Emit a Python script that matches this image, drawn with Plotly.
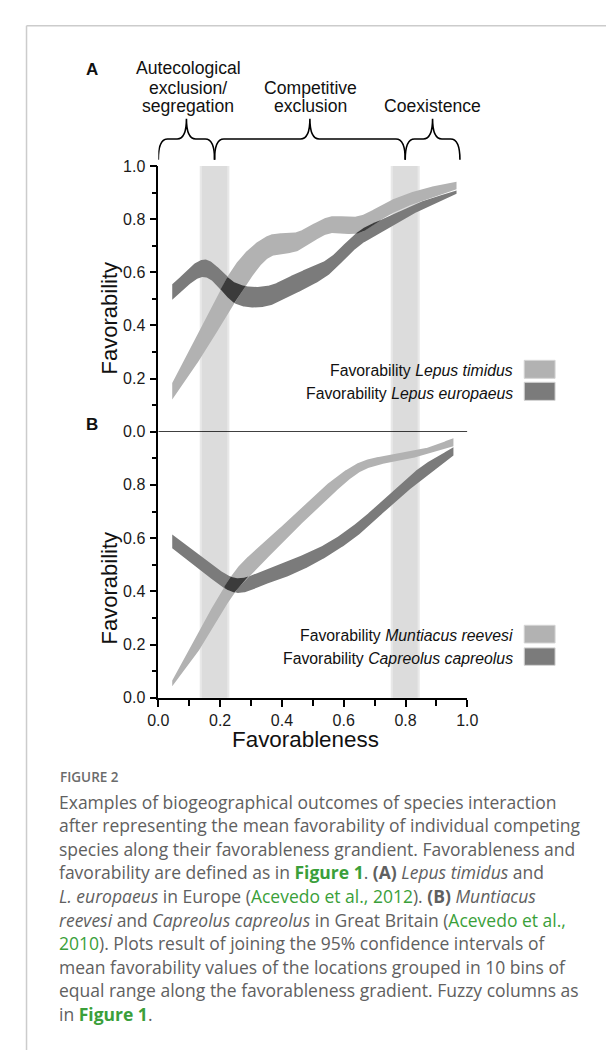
import numpy as np
import plotly.graph_objects as go

W, H = 614, 1051

# ---------------- data ----------------
# Panel A: Lepus timidus / Lepus europaeus (95% CI bounds of mean favorability per bin)
XA = [0.045, 0.15, 0.25, 0.35, 0.45, 0.55, 0.65, 0.75, 0.85, 0.965]
timidus_upper = [0.183, 0.42, 0.63, 0.735, 0.752, 0.808, 0.812, 0.87, 0.912, 0.941]
timidus_lower = [0.121, 0.30, 0.49, 0.648, 0.68, 0.745, 0.748, 0.818, 0.868, 0.913]
europaeus_upper = [0.555, 0.648, 0.56, 0.548, 0.598, 0.651, 0.756, 0.812, 0.865, 0.908]
europaeus_lower = [0.497, 0.582, 0.482, 0.472, 0.524, 0.59, 0.70, 0.768, 0.835, 0.896]

# Panel B: Muntiacus reevesi / Capreolus capreolus
XB = [0.045, 0.15, 0.25, 0.35, 0.45, 0.55, 0.65, 0.75, 0.85, 0.955]
muntiacus_upper = [0.065, 0.29, 0.48, 0.59, 0.70, 0.806, 0.884, 0.913, 0.933, 0.975]
muntiacus_lower = [0.043, 0.21, 0.40, 0.522, 0.639, 0.75, 0.847, 0.886, 0.908, 0.945]
capreolus_upper = [0.614, 0.522, 0.45, 0.483, 0.528, 0.583, 0.664, 0.768, 0.868, 0.941]
capreolus_lower = [0.562, 0.466, 0.395, 0.428, 0.472, 0.534, 0.614, 0.719, 0.818, 0.910]

# Fuzzy columns (favorableness ranges)
BANDS = [(0.134, 0.230), (0.752, 0.846)]

# Axis ticks
X_TICKS = [0.0, 0.2, 0.4, 0.6, 0.8, 1.0]
X_MINOR = [0.1, 0.3, 0.5, 0.7, 0.9]
Y_TICKS_A = [0.0, 0.2, 0.4, 0.6, 0.8, 1.0]
Y_TICKS_B = [0.0, 0.2, 0.4, 0.6, 0.8]
Y_MINOR = [0.1, 0.3, 0.5, 0.7, 0.9]

LEGEND_A = ["Favorability <i>Lepus timidus</i>", "Favorability <i>Lepus europaeus</i>"]
LEGEND_B = ["Favorability <i>Muntiacus reevesi</i>", "Favorability <i>Capreolus capreolus</i>"]

# ---------------- styling ----------------
LIGHT = "#b2b2b2"
DARK = "#7b7b7b"
OVER = "#3b3b3b"
BAND = "#dcdcdc"
BAND_EDGE = "#e8e8e8"
AX_FONT = "Liberation Sans, Arial, sans-serif"
CAP_FONT = "Open Sans, sans-serif"
GREEN = "#3a9f3a"
GREY = "#606060"

X0_PX, X1_PX = 144.5, 465.0
A_TOP, MID, B_BOT = 152.5, 422.5, 693.0


def pxx(x):
    return x / W


def pyy(y):
    return 1 - y / H


def smooth(xs, ys, n=400):
    """Cubic Hermite curve through the read points (for drawing only)."""
    xs = np.asarray(xs, float)
    ys = np.asarray(ys, float)
    m = np.gradient(ys, xs)
    xx = np.linspace(xs[0], xs[-1], n)
    idx = np.clip(np.searchsorted(xs, xx) - 1, 0, len(xs) - 2)
    x0, x1 = xs[idx], xs[idx + 1]
    h = x1 - x0
    t = (xx - x0) / h
    y0, y1 = ys[idx], ys[idx + 1]
    m0, m1 = m[idx], m[idx + 1]
    h00 = 2 * t**3 - 3 * t**2 + 1
    h10 = t**3 - 2 * t**2 + t
    h01 = -2 * t**3 + 3 * t**2
    h11 = t**3 - t**2
    return xx, h00 * y0 + h10 * h * m0 + h01 * y1 + h11 * h * m1


fig = go.Figure()


def ribbon(xx, up, lo, color, yaxis):
    fig.add_trace(go.Scatter(
        x=np.concatenate([xx, xx[::-1]]), y=np.concatenate([up, lo[::-1]]),
        fill="toself", fillcolor=color, mode="lines", line=dict(width=0, color=color),
        hoverinfo="skip", xaxis="x", yaxis=yaxis))


def panel(xs, up1, lo1, up2, lo2, yaxis):
    # series 2 = dark (drawn first), series 1 = light
    xx, u2 = smooth(xs, up2)
    _, l2 = smooth(xs, lo2)
    _, u1 = smooth(xs, up1)
    _, l1 = smooth(xs, lo1)
    ribbon(xx, u2, l2, DARK, yaxis)
    ribbon(xx, u1, l1, LIGHT, yaxis)
    hi = np.minimum(u1, u2)
    lo = np.maximum(l1, l2)
    mask = hi > lo
    i = 0
    n = len(xx)
    while i < n:
        if mask[i]:
            j = i
            while j < n and mask[j]:
                j += 1
            ribbon(xx[i:j], hi[i:j], lo[i:j], OVER, yaxis)
            i = j
        else:
            i += 1


panel(XA, timidus_upper, timidus_lower, europaeus_upper, europaeus_lower, "y2")
panel(XB, muntiacus_upper, muntiacus_lower, capreolus_upper, capreolus_lower, "y")

shapes = []
# fuzzy columns
for (b0, b1) in BANDS:
    e = 0.007
    shapes.append(dict(type="rect", xref="x", yref="paper", x0=b0, x1=b1,
                       y0=pyy(B_BOT), y1=pyy(A_TOP), fillcolor=BAND_EDGE, line=dict(width=0), layer="below"))
    shapes.append(dict(type="rect", xref="x", yref="paper", x0=b0 + e, x1=b1 - e,
                       y0=pyy(B_BOT), y1=pyy(A_TOP), fillcolor=BAND, line=dict(width=0), layer="below"))
# panel A baseline
shapes.append(dict(type="line", xref="x", yref="y2", x0=0, x1=1, y0=0, y1=0,
                   line=dict(color="black", width=1.5)))
# braces (split at the column centres)
cuts = [0.0] + [(b0 + b1) / 2 for (b0, b1) in BANDS] + [0.976]
yb, ym, yt = pyy(146.0), pyy(125.0), pyy(104.5)
r = 0.03
for k in range(3):
    x0, x1 = cuts[k], cuts[k + 1]
    xc = (x0 + x1) / 2
    path = (f"M {x0},{yb} Q {x0},{ym} {x0 + r},{ym} L {xc - r},{ym} "
            f"Q {xc},{ym} {xc},{yt} Q {xc},{ym} {xc + r},{ym} L {x1 - r},{ym} "
            f"Q {x1},{ym} {x1},{yb}")
    shapes.append(dict(type="path", xref="x", yref="paper", path=path,
                       line=dict(color="black", width=1.6)))
# legend swatches
for (y0, y1, c) in [(350, 368.3, LIGHT), (372.3, 390.7, DARK), (619.3, 637.3, LIGHT), (642.3, 660, DARK)]:
    shapes.append(dict(type="rect", xref="paper", yref="paper", x0=pxx(524), x1=pxx(556),
                       y0=pyy(y1), y1=pyy(y0), fillcolor=c, line=dict(color="#d4d4d4", width=1)))
# page border
shapes.append(dict(type="line", xref="paper", yref="paper", x0=pxx(7.8), x1=1, y0=pyy(10), y1=pyy(10),
                   line=dict(color="#cccccc", width=1.5)))
shapes.append(dict(type="line", xref="paper", yref="paper", x0=pxx(7.8), x1=pxx(7.8), y0=pyy(10), y1=0,
                   line=dict(color="#cccccc", width=1.5)))

ann = []


def text(t, x, y, size, family=AX_FONT, color="#111111", xanchor="center", angle=0, weight=None,
         yanchor="middle"):
    f = dict(family=family, size=size, color=color)
    if weight:
        f["weight"] = weight
    ann.append(dict(text=t, x=pxx(x), y=pyy(y), xref="paper", yref="paper", showarrow=False,
                    xanchor=xanchor, yanchor=yanchor, font=f, textangle=angle, borderpad=0))


text("<b>A</b>", 75.5, 54.7, 17)
text("<b>B</b>", 75.5, 415, 17)
for t, x, y in [("Autecological", 175.5, 53.0), ("exclusion/", 175.5, 73.0), ("segregation", 175.5, 91.7),
                ("Competitive", 302.2, 72.7), ("exclusion", 302.2, 91.7), ("Coexistence", 428.7, 91.7)]:
    text(t, x, y, 17.6)
text("Favorability", 94, 307.8, 22, angle=-90)
text("Favorability", 94, 582.2, 22, angle=-90)
text("Favorableness", 297.3, 721.5, 22.4, yanchor="top")
for t, y in zip(LEGEND_A + LEGEND_B, [360, 383.3, 630, 653.3]):
    text(t, 513.5, y, 15.8, xanchor="right")

text("FIGURE 2", 41.1, 773.3, 13.5, family=CAP_FONT, color="#6b6b6b", xanchor="left", weight=600)
g = lambda s: f"<span style='color:{GREEN}'>{s}</span>"
cap = [
    "Examples of biogeographical outcomes of species interaction",
    "after representing the mean favorability of individual competing",
    "species along their favorableness grandient. Favorableness and",
    f"favorability are defined as in <b>{g('Figure 1')}</b>. <b>(A)</b> <i>Lepus timidus</i> and",
    f"<i>L. europaeus</i> in Europe ({g('Acevedo et al., 2012')}). <b>(B)</b> <i>Muntiacus</i>",
    f"<i>reevesi</i> and <i>Capreolus capreolus</i> in Great Britain ({g('Acevedo et al.,')}",
    f"{g('2010')}). Plots result of joining the 95% confidence intervals of",
    "mean favorability values of the locations grouped in 10 bins of",
    "equal range along the favorableness gradient. Fuzzy columns as",
    f"in <b>{g('Figure 1')}</b>.",
]
for i, line in enumerate(cap):
    text(line, 40.3, 798.5 + 24 * i, 17.5, family=CAP_FONT, color=GREY, xanchor="left")

tick_font = dict(family=AX_FONT, size=16, color="#1a1a1a")
fmt = lambda v: f"{v:.1f}"
common_y = dict(range=[0, 1], anchor="x", showline=True, linecolor="black", linewidth=1.5,
                ticks="outside", ticklen=7, tickwidth=1.5, tickcolor="black", tickfont=tick_font,
                showgrid=False, zeroline=False, ticklabelstandoff=1,
                minor=dict(tickvals=Y_MINOR, ticks="outside", ticklen=4.5, tickwidth=1.5, tickcolor="black"))

fig.update_layout(
    width=W, height=H, margin=dict(l=0, r=0, t=0, b=0),
    paper_bgcolor="white", plot_bgcolor="rgba(0,0,0,0)", showlegend=False,
    xaxis=dict(domain=[pxx(X0_PX), pxx(X1_PX)], range=[0, 1], anchor="y", showline=True,
               linecolor="black", linewidth=1.5, ticks="outside", ticklen=7, tickwidth=1.5,
               tickcolor="black", tickvals=X_TICKS, ticktext=[fmt(v) for v in X_TICKS],
               tickfont=tick_font, showgrid=False, zeroline=False, ticklabelstandoff=0,
               minor=dict(tickvals=X_MINOR, ticks="outside", ticklen=6, tickwidth=1.5, tickcolor="black")),
    yaxis=dict(domain=[pyy(B_BOT), pyy(MID)], tickvals=Y_TICKS_B, ticktext=[fmt(v) for v in Y_TICKS_B],
               **common_y),
    yaxis2=dict(domain=[pyy(MID), pyy(A_TOP)], tickvals=Y_TICKS_A, ticktext=[fmt(v) for v in Y_TICKS_A],
                **common_y),
    shapes=shapes, annotations=ann,
)

fig.write_html("out.html")
